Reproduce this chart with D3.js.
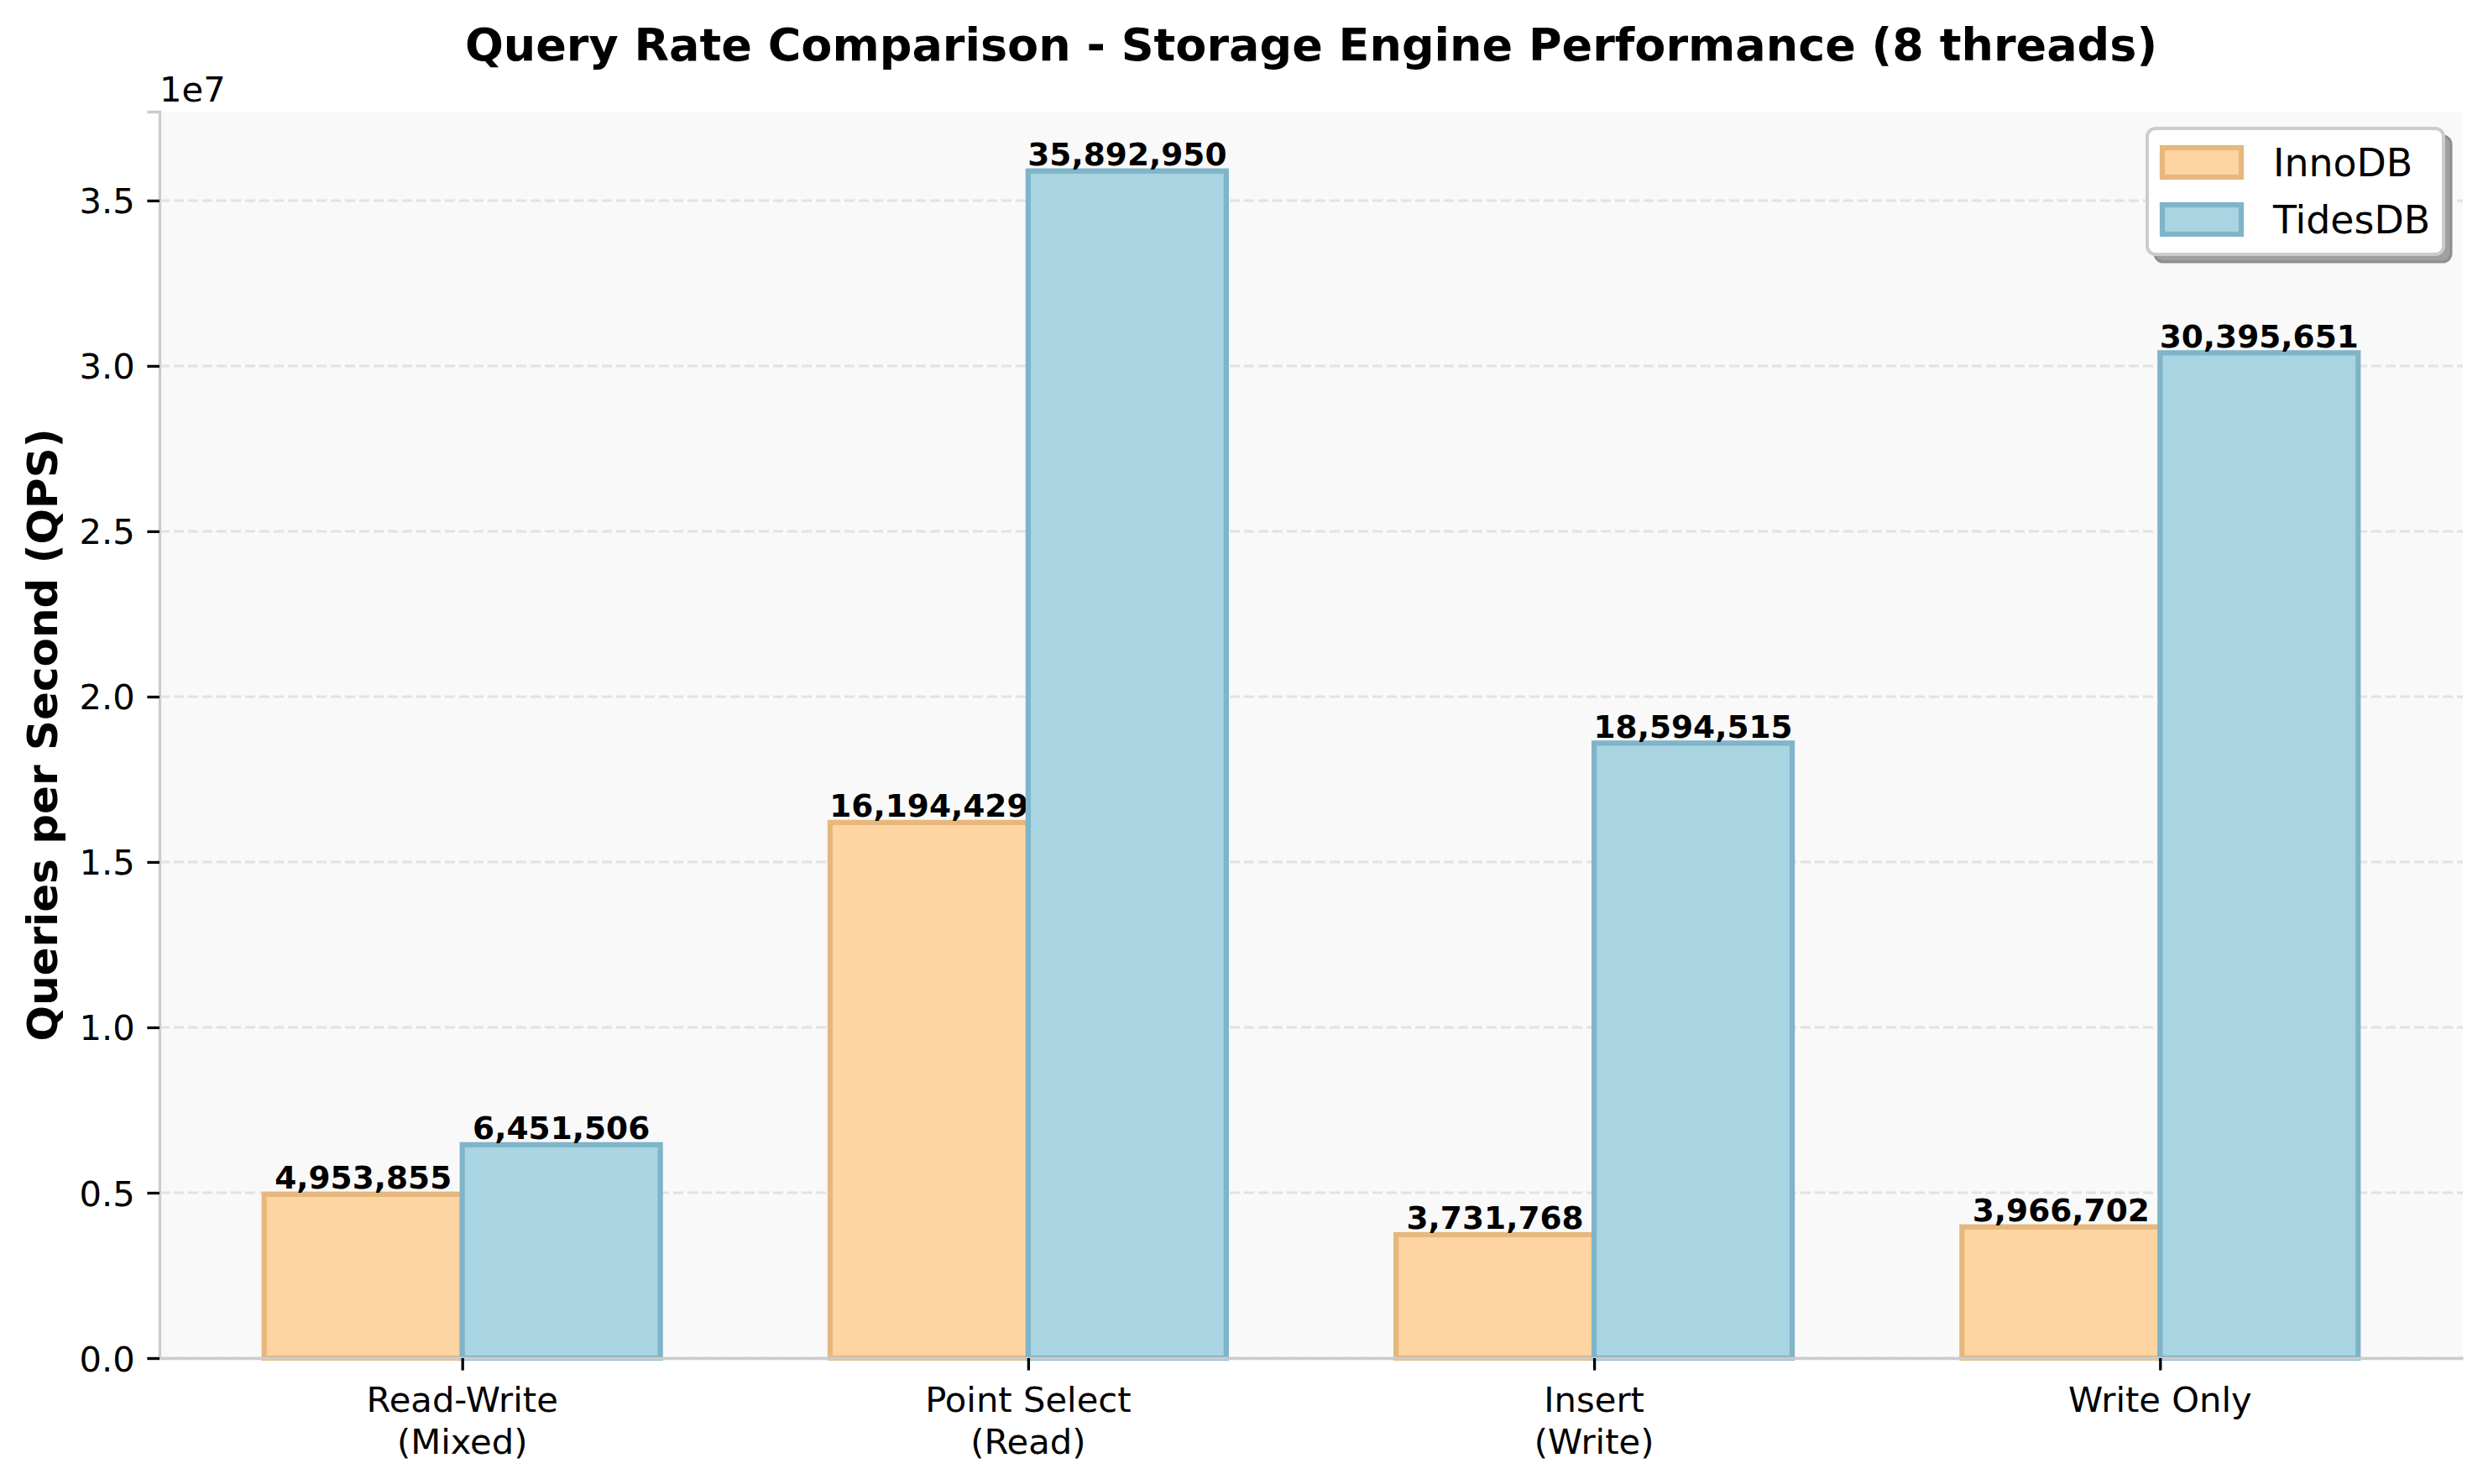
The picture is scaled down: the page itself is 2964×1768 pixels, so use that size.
<!DOCTYPE html>
<html>
<head>
<meta charset="utf-8">
<script src="https://cdn.jsdelivr.net/npm/d3@7"></script>
<style>
  body { margin: 0; background: #ffffff; }
  svg { display: block; font-family: "DejaVu Sans", sans-serif; }
</style>
</head>
<body>
<div id="chart"></div>
<script>
// Data
const categories = [["Read-Write", "(Mixed)"], ["Point Select", "(Read)"], ["Insert", "(Write)"], ["Write Only"]];
const innodbQps = [4953855, 16194429, 3731768, 3966702];
const tidesdbQps = [6451506, 35892950, 18594515, 30395651];
const seriesNames = ["InnoDB", "TidesDB"];
const yTickValues = [0, 5e6, 10e6, 15e6, 20e6, 25e6, 30e6, 35e6];

// Layout
const width = 2964;
const height = 1768;
const margin = { top: 133, right: 30, bottom: 150, left: 190 };
const plotW = width - margin.left - margin.right;
const plotH = height - margin.top - margin.bottom;
const barWidth = 0.35;

const fills = ["#FDD4A2", "#A8D5E1"];
const edges = ["#E6B87C", "#7FB4C9"];

const svg = d3.select("#chart")
  .append("svg")
  .attr("width", width)
  .attr("height", height);

const chart = svg.append("g")
  .attr("transform", `translate(${margin.left},${margin.top})`);

// x like matplotlib: index positions with 5% margins
const xMin = -barWidth, xMax = categories.length - 1 + barWidth;
const pad = (xMax - xMin) * 0.05;
const x = d3.scaleLinear().domain([xMin - pad, xMax + pad]).range([0, plotW]);
const yMax = d3.max(innodbQps.concat(tidesdbQps)) * 1.05;
const y = d3.scaleLinear().domain([0, yMax]).range([plotH, 0]);

// background
chart.append("rect")
  .attr("width", plotW)
  .attr("height", plotH)
  .attr("fill", "#F9F9F9");

// grid
chart.append("g")
  .selectAll("line")
  .data(yTickValues)
  .enter()
  .append("line")
  .attr("x1", 0)
  .attr("x2", plotW)
  .attr("y1", d => y(d))
  .attr("y2", d => y(d))
  .attr("stroke", "#E2E2E2")
  .attr("stroke-width", 3)
  .attr("stroke-dasharray", "12,5");

// bars
const series = [innodbQps, tidesdbQps];
series.forEach((values, s) => {
  const offset = s === 0 ? -barWidth : 0;
  chart.append("g")
    .selectAll("rect")
    .data(values)
    .enter()
    .append("rect")
    .attr("x", (d, i) => x(i + offset))
    .attr("width", x(barWidth) - x(0))
    .attr("y", d => y(d))
    .attr("height", d => y(0) - y(d))
    .attr("fill", fills[s])
    .attr("stroke", edges[s])
    .attr("stroke-width", 6.25);

  chart.append("g")
    .selectAll("text")
    .data(values)
    .enter()
    .append("text")
    .attr("x", (d, i) => x(i + offset + barWidth / 2))
    .attr("y", d => y(d) - 6.5)
    .attr("text-anchor", "middle")
    .style("font-size", "37.5px")
    .style("font-weight", "bold")
    .text(d => d3.format(",")(d));
});

// y axis
const yAxis = chart.append("g")
  .call(d3.axisLeft(y)
    .tickValues(yTickValues)
    .tickFormat(d => (d / 1e7).toFixed(1))
    .tickSize(14.6)
    .tickPadding(14.6));
yAxis.select(".domain").attr("stroke", "#CCCCCC").attr("stroke-width", 3.3);
yAxis.selectAll(".tick line").attr("stroke", "#000").attr("stroke-width", 3.3);
yAxis.selectAll(".tick text")
  .attr("fill", "#000")
  .style("font-size", "41.7px")
  .style("font-family", "DejaVu Sans")
  .attr("dy", "0.36em");

// x axis
const xAxis = chart.append("g")
  .attr("transform", `translate(0,${plotH})`)
  .call(d3.axisBottom(x)
    .tickValues(d3.range(categories.length))
    .tickFormat("")
    .tickSize(14.6)
    .tickSizeOuter(0));
xAxis.select(".domain").attr("stroke", "#CCCCCC").attr("stroke-width", 3.3);
xAxis.selectAll(".tick line").attr("stroke", "#000").attr("stroke-width", 3.3);

const xLabels = chart.append("g")
  .selectAll("text")
  .data(categories)
  .enter()
  .append("text")
  .attr("text-anchor", "middle")
  .style("font-size", "41.7px")
  .attr("transform", (d, i) => `translate(${x(i)},${plotH + 64})`);
xLabels.selectAll("tspan")
  .data(d => d)
  .enter()
  .append("tspan")
  .attr("x", 0)
  .attr("y", (d, i) => i * 50)
  .text(d => d);

// offset text
chart.append("text")
  .attr("x", 0)
  .attr("y", -12)
  .style("font-size", "41.7px")
  .text("1e7");

// y label
svg.append("text")
  .attr("transform", `translate(68,${margin.top + plotH / 2}) rotate(-90)`)
  .attr("text-anchor", "middle")
  .style("font-size", "50px")
  .style("font-weight", "bold")
  .text("Queries per Second (QPS)");

// title
svg.append("text")
  .attr("x", margin.left + plotW / 2)
  .attr("y", 72)
  .attr("text-anchor", "middle")
  .style("font-size", "54px")
  .style("font-weight", "bold")
  .text("Query Rate Comparison - Storage Engine Performance (8 threads)");

// legend
const legend = svg.append("g").attr("transform", "translate(2558,153)");
const legW = 353, legH = 150;
legend.append("rect")
  .attr("x", 9).attr("y", 9)
  .attr("width", legW).attr("height", legH)
  .attr("rx", 10)
  .attr("fill", "#A0A0A0")
  .attr("stroke", "#8E8E8E")
  .attr("stroke-width", 3);
legend.append("rect")
  .attr("width", legW).attr("height", legH)
  .attr("rx", 10)
  .attr("fill", "#FFFFFF")
  .attr("stroke", "#CCCCCC")
  .attr("stroke-width", 4);

const legItems = legend.selectAll(".leg-item")
  .data(seriesNames)
  .enter()
  .append("g")
  .attr("class", "leg-item")
  .attr("transform", (d, i) => `translate(0,${i * 68})`);
legItems.append("rect")
  .attr("x", 18).attr("y", 23)
  .attr("width", 94).attr("height", 35)
  .attr("fill", (d, i) => fills[i])
  .attr("stroke", (d, i) => edges[i])
  .attr("stroke-width", 6.25);
legItems.append("text")
  .attr("x", 150).attr("y", 57)
  .style("font-size", "45.8px")
  .text(d => d);
</script>
</body>
</html>
